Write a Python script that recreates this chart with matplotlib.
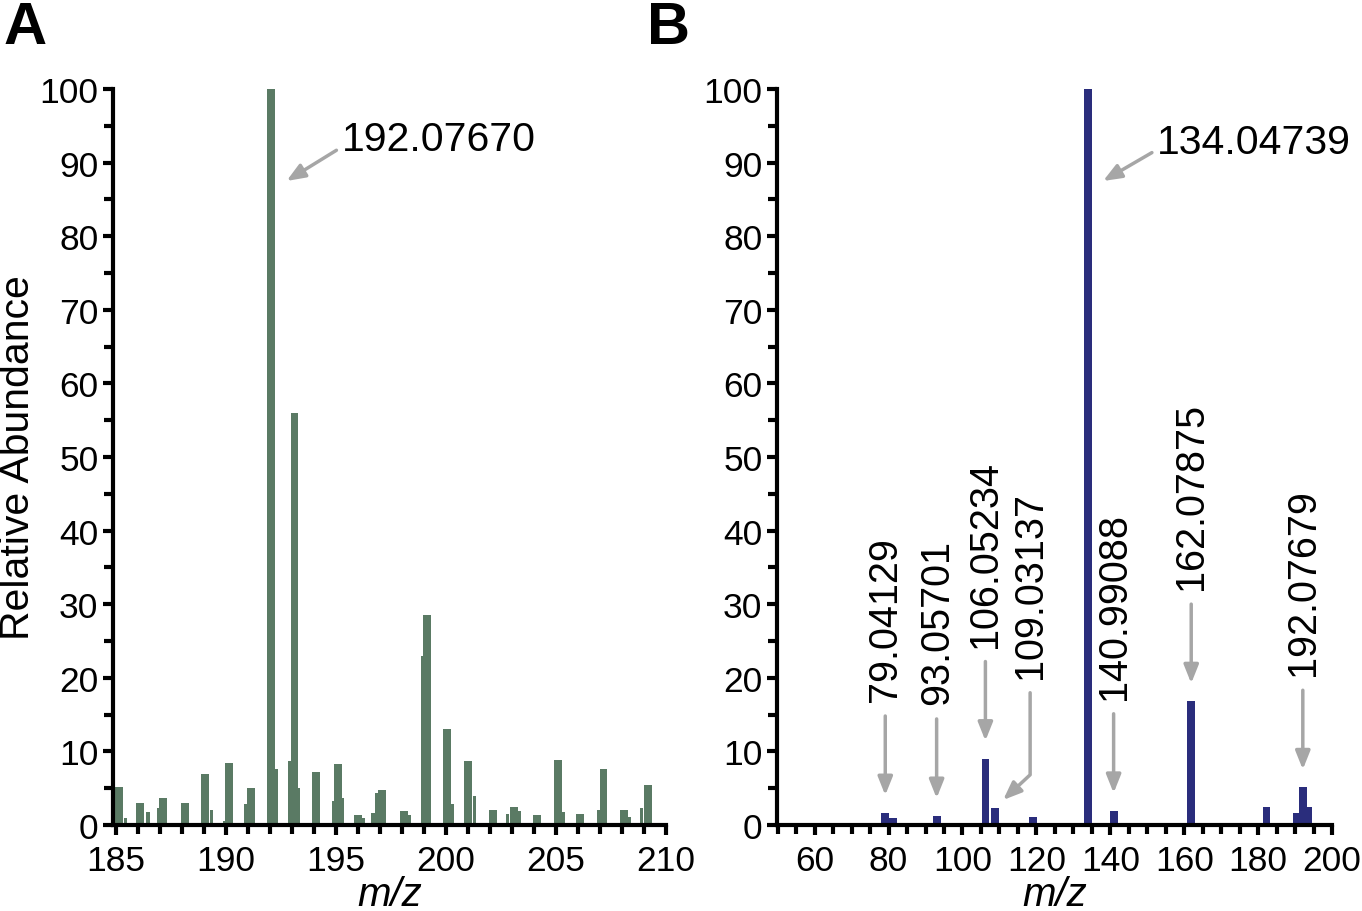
import matplotlib
matplotlib.use("Agg")
import matplotlib.pyplot as plt
from matplotlib.ticker import MultipleLocator

plt.rcParams['font.family'] = ['Liberation Sans', 'DejaVu Sans']

# Panel A: full scan around the precursor
a_mz = [185.15, 186.09, 187.15, 188.15, 189.03, 190.15, 191.15, 192.05, 193.11,
        194.09, 195.09, 196.0, 197.1, 198.1, 199.12, 200.04, 201.01, 202.15,
        203.08, 204.15, 205.1, 206.1, 207.16, 208.1, 209.17]
a_int = [5.2, 3.0, 3.7, 3.0, 6.9, 8.4, 5.0, 100.0, 56.0,
         7.2, 8.3, 1.3, 4.8, 1.9, 28.5, 13.1, 8.7, 2.0,
         2.4, 1.4, 8.8, 1.5, 7.6, 2.0, 5.4]
# small shoulder peaks next to the main ones
a_minor_mz = [185.42, 186.45, 186.92, 187.89, 189.33, 189.92, 190.89, 192.27,
              192.88, 193.31, 194.9, 195.29, 196.25, 196.68, 196.82, 198.34,
              198.95, 200.3, 201.3, 202.79, 203.33, 205.35, 206.93, 208.35, 208.9]
a_minor_int = [1.0, 1.8, 2.3, 0.3, 2.0, 0.5, 2.8, 7.6,
               8.7, 5.0, 3.3, 3.7, 1.0, 1.6, 4.4, 1.4,
               22.9, 2.9, 4.0, 1.5, 1.9, 1.8, 2.0, 1.1, 2.3]
a_label_mz = 192.07670

# Panel B: MS/MS fragments
b_mz = [79.1, 81.2, 93.0, 106.2, 108.9, 119.1, 134.0, 140.9, 150.9, 160.5,
        161.9, 182.3, 190.6, 192.1, 193.6]
b_int = [1.6, 1.0, 1.2, 9.0, 2.3, 1.1, 100.0, 1.9, 0.2, 0.3,
         16.8, 2.4, 1.6, 5.1, 2.4]
b_base_label = "134.04739"
b_labels = ["79.04129", "93.05701", "106.05234", "140.99088", "162.07875", "192.07679"]
b_label_mz = [79.1, 93.0, 106.2, 140.9, 161.9, 192.1]
b_label_int = [1.6, 1.2, 9.0, 1.9, 16.8, 5.1]
b_bent_label = "109.03137"
b_bent_mz = 108.9
b_bent_int = 2.3

green = '#5a7a64'
blue = '#2a2d7c'
grey = '#a6a6a6'
px = 72 / 100  # points per pixel

fig = plt.figure(figsize=(13.62, 9.12), dpi=100)
axA = fig.add_axes([113 / 1362, 1 - 826 / 912, 553 / 1362, 736 / 912])
axB = fig.add_axes([777 / 1362, 1 - 826 / 912, 555 / 1362, 736 / 912])


def style(ax):
    for s in ['top', 'right']:
        ax.spines[s].set_visible(False)
    for s in ['left', 'bottom']:
        ax.spines[s].set_linewidth(3.0)
    ax.tick_params(which='major', length=7.5, width=3.0, labelsize=25.5, pad=3)
    ax.tick_params(which='minor', length=6.5, width=3.0)
    ax.tick_params(axis='x', pad=6)
    ax.set_ylim(0, 100)
    ax.yaxis.set_major_locator(MultipleLocator(10))
    ax.yaxis.set_minor_locator(MultipleLocator(5))
    ax.set_xlabel('m/z', fontsize=29, style='italic', labelpad=-1)


# ---- A ----
axA.bar(a_minor_mz, a_minor_int, width=0.14, color=green, linewidth=0)
axA.bar(a_mz, a_int, width=0.36, color=green, linewidth=0)
axA.set_xlim(184.86, 210)
axA.xaxis.set_major_locator(MultipleLocator(5))
axA.xaxis.set_minor_locator(MultipleLocator(1))
style(axA)
axA.set_ylabel('Relative Abundance', fontsize=29.5, labelpad=2)
axA.annotate(f"{a_label_mz:.5f}", xy=(192.05 + 0.7, 100 - 12.5),
             xytext=(55 * px, 41.5 * px), textcoords='offset points',
             ha='left', va='center', fontsize=29.5,
             arrowprops=dict(arrowstyle='-|>,head_length=0.55,head_width=0.22',
                             mutation_scale=20, color=grey, lw=2.5,
                             shrinkA=2, shrinkB=0, relpos=(0, 0.3)))

# ---- B ----
axB.bar(b_mz, b_int, width=2.1, color=blue, linewidth=0)
axB.set_xlim(49.8, 200)
axB.xaxis.set_major_locator(MultipleLocator(20))
axB.xaxis.set_minor_locator(MultipleLocator(5))
style(axB)
axB.annotate(b_base_label, xy=(134.0 + 4.05, 100 - 12.5),
             xytext=(54 * px, 39 * px), textcoords='offset points',
             ha='left', va='center', fontsize=29.5,
             arrowprops=dict(arrowstyle='-|>,head_length=0.55,head_width=0.22',
                             mutation_scale=20, color=grey, lw=2.5,
                             shrinkA=2, shrinkB=0, relpos=(0, 0.3)))

for lab, mz, h in zip(b_labels, b_label_mz, b_label_int):
    axB.annotate(lab, xy=(mz, h), xytext=(0, 112 * px), textcoords='offset points',
                 rotation=90, ha='center', va='bottom', fontsize=28.5,
                 arrowprops=dict(arrowstyle='-|>,head_length=0.55,head_width=0.22',
                                 mutation_scale=20, color=grey, lw=2.5,
                                 shrinkA=12 * px, shrinkB=18 * px, relpos=(0.5, 0)))

# 109 label with a bent arrow
axB.annotate(b_bent_label, xy=(b_bent_mz + 2.1, b_bent_int + 1.1),
             xytext=(27 * px, 122 * px), textcoords='offset points',
             rotation=90, ha='center', va='bottom', fontsize=28.5,
             arrowprops=dict(arrowstyle='-|>,head_length=0.55,head_width=0.22',
                             mutation_scale=20, color=grey, lw=2.5,
                             shrinkA=12 * px, shrinkB=0, relpos=(0.5, 0),
                             connectionstyle='angle,angleA=90,angleB=43,rad=0'))

fig.text(4 / 1362, 1 - 1 / 912, 'A', fontsize=43, fontweight='bold', va='top', ha='left')
fig.text(647 / 1362, 1 - 1 / 912, 'B', fontsize=43, fontweight='bold', va='top', ha='left')

fig.savefig('out.png', dpi=100)
